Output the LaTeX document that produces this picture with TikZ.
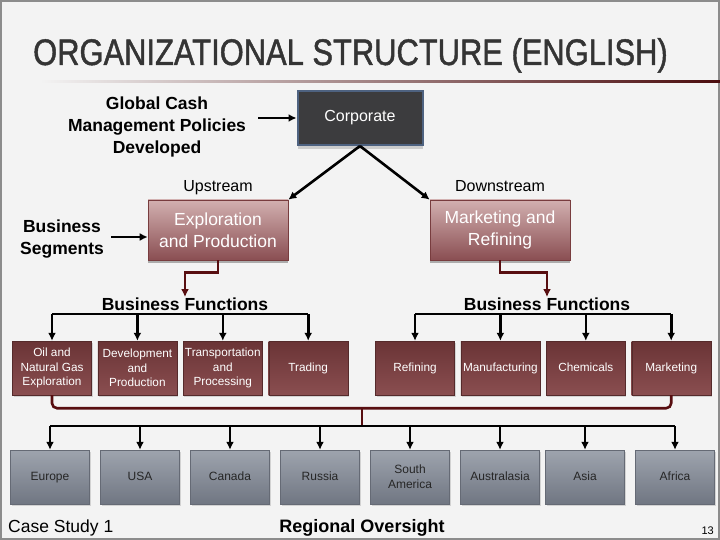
\documentclass[tikz,border=0pt]{standalone}
\usepackage{fontspec}
\setmainfont{Liberation Sans}
\newfontfamily\titlefont[FakeStretch=0.835, FakeBold=1.2]{Liberation Sans}
\usetikzlibrary{arrows.meta, positioning, calc, shadows}
\definecolor{slidebg}{RGB}{243, 243, 243}
\definecolor{slideframe}{RGB}{140, 140, 140}
\definecolor{titlegray}{RGB}{52, 52, 52}
\definecolor{corpfill}{RGB}{60, 60, 62}
\definecolor{corpedge}{RGB}{78, 98, 128}
\definecolor{segtop}{RGB}{210, 176, 176}
\definecolor{segbot}{RGB}{138, 78, 82}
\definecolor{segedge}{RGB}{120, 60, 62}
\definecolor{fntop}{RGB}{106, 52, 54}
\definecolor{fnbot}{RGB}{138, 78, 80}
\definecolor{regtop}{RGB}{158, 164, 174}
\definecolor{regbot}{RGB}{112, 118, 130}
\definecolor{darkred}{RGB}{88, 14, 16}
\tikzset{
	corpbox/.style={rectangle, draw=corpedge, fill=corpfill, line width=2pt, minimum width=125pt, minimum height=54pt, text=white, font=\fontsize{16}{18}\selectfont, drop shadow={shadow xshift=0pt, shadow yshift=-4pt, fill=gray!70}},
	segbox/.style={rectangle, draw=segedge, top color=segtop, bottom color=segbot, line width=0.6pt, minimum width=140pt, minimum height=60pt, align=center, text=white, font=\fontsize{17.5}{22}\selectfont, drop shadow={shadow xshift=0pt, shadow yshift=-3pt, fill=black!60}},
	fnbox/.style={rectangle, top color=fntop, bottom color=fnbot, draw=fntop!80!black, line width=0.4pt, minimum width=79pt, minimum height=54pt, inner sep=0.5pt, align=center, text=white, font=\fontsize{11.8}{14.5}\selectfont, drop shadow={shadow xshift=1pt, shadow yshift=-2pt, fill=gray!60}},
	regbox/.style={rectangle, top color=regtop, bottom color=regbot, draw=regbot!90!black, line width=0.4pt, minimum width=79pt, minimum height=54pt, align=center, text=black!85, font=\fontsize{12}{15}\selectfont, drop shadow={shadow xshift=1pt, shadow yshift=-2pt, fill=gray!60}},
	oneline/.style={text height=9pt, text depth=3pt},
	boldlabel/.style={align=center, font=\bfseries\fontsize{17.5}{22}\selectfont},
	plainlabel/.style={text height=12pt, text depth=3.5pt, font=\fontsize{16}{18}\selectfont},
	blkarrow/.style={-{Latex[length=8pt, width=8pt]}, line width=2.6pt, draw=black},
	blkline/.style={line width=2.6pt, draw=black},
	redarrow/.style={-{Latex[length=8pt, width=8pt]}, line width=2.6pt, draw=darkred},
	redline/.style={line width=2.6pt, draw=darkred},
}
\begin{document}
\begin{tikzpicture}[x=1pt, y=-1pt]
	% slide background
	\fill[slidebg] (0,0) rectangle (720,540);
	\draw[slideframe, line width=2pt] (1,1) rectangle (719,539);
	\useasboundingbox (0,0) rectangle (720,540);
	\node[anchor=base west, inner sep=0pt, text=titlegray, font=\titlefont\fontsize{37}{40}\selectfont] (title) at (33,65) {ORGANIZATIONAL STRUCTURE (ENGLISH)};
	\shade[left color=slidebg, right color=darkred!85!black] (40,81) rectangle (720,83);

	% top level
	\node[corpbox] (corp) at (360,118) {Corporate};
	\node[boldlabel] (gcm) at (157,127) {Global Cash\\Management Policies\\Developed};
	\draw[blkarrow] (258,118) coordinate (gcmarr) -- (corp.west);

	% segments
	\node[segbox] (expl) at (218,230) {Exploration\\and Production};
	\node[segbox] (mktg) at (500,230) {Marketing and\\Refining};
	\node[plainlabel, above=1pt of expl] (up) {Upstream};
	\node[plainlabel, above=1pt of mktg] (down) {Downstream};
	\node[boldlabel] (bseg) at (62,239) {Business\\Segments};
	\draw[blkarrow] (bseg.east) ++(4,-2) coordinate (bsegarr) -- (expl.west |- bsegarr);
	\draw[blkarrow] (corp.south) -- (expl.north east);
	\draw[blkarrow] (corp.south) -- (mktg.north west);

	% business functions
	\node[boldlabel] (bf1) at (185,304) {Business Functions};
	\node[boldlabel] (bf2) at (547,304) {Business Functions};
	\draw[redarrow] (expl.south) -- ++(0,12) -| ([yshift=-3pt]bf1.north);
	\draw[redarrow] (mktg.south) -- ++(0,12) -| ([yshift=-3pt]bf2.north);

	\node[fnbox] (fn1) at (52,368) {Oil and\\Natural Gas\\Exploration};
	\node[fnbox, right=6pt of fn1] (fn2) {Development\\and\\Production};
	\node[fnbox, right=6pt of fn2] (fn3) {Transportation\\and\\Processing};
	\node[fnbox, oneline, right=6pt of fn3] (fn4) {Trading};
	\node[fnbox, oneline] (fn5) at (415,368) {Refining};
	\node[fnbox, oneline, right=6pt of fn5] (fn6) {Manufacturing};
	\node[fnbox, oneline, right=6pt of fn6] (fn7) {Chemicals};
	\node[fnbox, oneline, right=6pt of fn7] (fn8) {Marketing};

	\coordinate (barL) at (bf1.south);
	\coordinate (barR) at (bf2.south);
	\draw[blkline] (fn1.north |- barL) -- (fn4.north |- barL);
	\draw[blkline] (fn5.north |- barR) -- (fn8.north |- barR);
	\foreach \n in {1,...,4}
		\draw[blkarrow] (fn\n.north |- barL) -- (fn\n.north);
	\foreach \n in {5,...,8}
		\draw[blkarrow] (fn\n.north |- barR) -- (fn\n.north);

	% regional oversight
	\node[regbox, oneline] (reg1) at (50,477) {Europe};
	\node[regbox, oneline] (reg2) at (140,477) {USA};
	\node[regbox, oneline] (reg3) at (230,477) {Canada};
	\node[regbox, oneline] (reg4) at (320,477) {Russia};
	\node[regbox] (reg5) at (410,477) {South\\America};
	\node[regbox, oneline] (reg6) at (500,477) {Australasia};
	\node[regbox, oneline] (reg7) at (585,477) {Asia};
	\node[regbox, oneline] (reg8) at (675,477) {Africa};

	\draw[redline, rounded corners=5pt] (fn1.south) -- ++(0,13) coordinate (redbar) -| (fn8.south);
	\coordinate (stem) at (362,426);
	\draw[redline] (stem |- redbar) -- (stem);
	\draw[blkline] (reg1.north |- stem) -- (reg8.north |- stem);
	\foreach \n in {1,...,8}
		\draw[blkarrow] (reg\n.north |- stem) -- (reg\n.north);

	% footer
	\node[anchor=base west, inner sep=0pt, font=\fontsize{17.5}{20}\selectfont] (case) at (8,532) {Case Study 1};
	\node[anchor=base, inner sep=0pt, font=\bfseries\fontsize{18}{20}\selectfont] (ovs) at (362,532) {Regional Oversight};
	\node[anchor=base east, inner sep=0pt, font=\fontsize{11}{13}\selectfont] (page) at (714,534) {13};
\end{tikzpicture}
\end{document}
